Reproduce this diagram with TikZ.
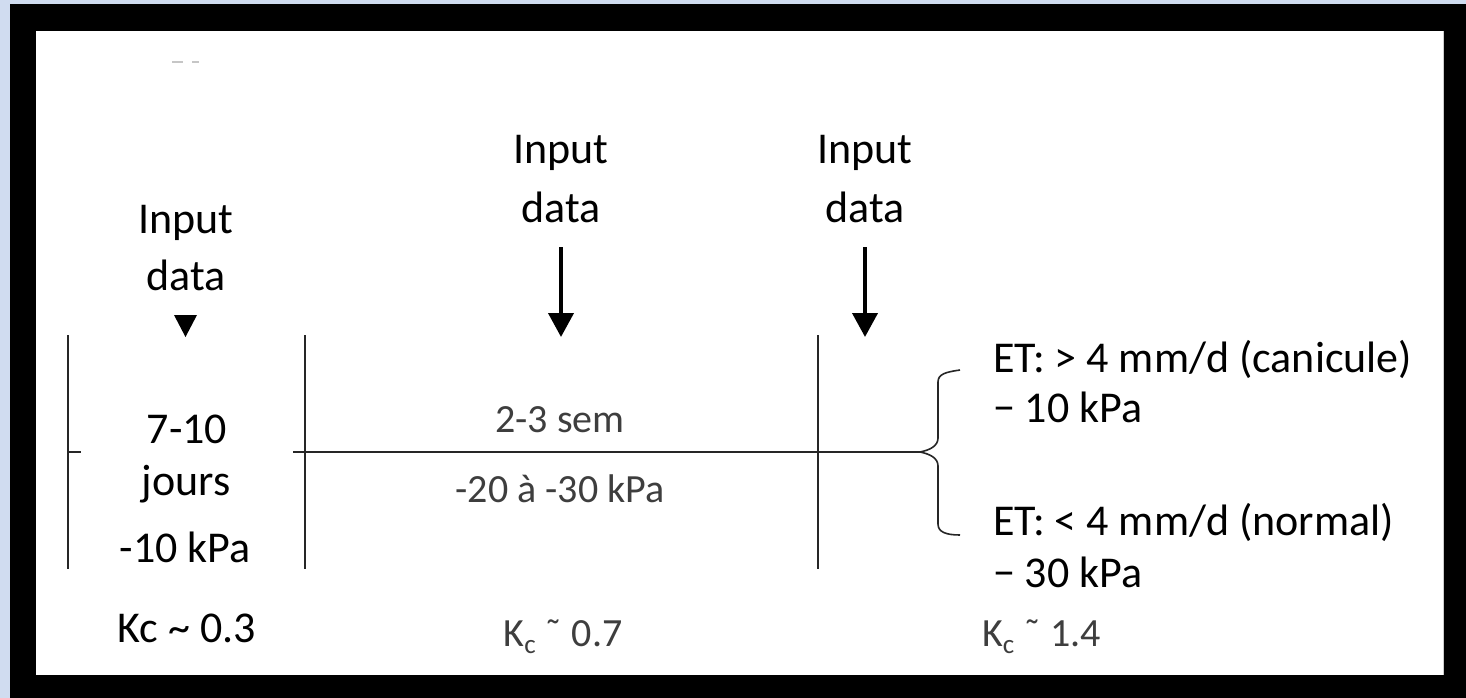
\documentclass[tikz,border=0pt]{standalone}
\usepackage{fontspec}
\setmainfont{Carlito}
\usetikzlibrary{arrows.meta}
\definecolor{bgblue}{RGB}{208,220,240}
\definecolor{txtgray}{RGB}{62,62,62}
\begin{document}
\begin{tikzpicture}[x=1pt,y=-1pt,
  every node/.style={inner sep=0pt, outer sep=0pt},
  lbl/.style={font=\fontsize{44}{52}\selectfont, anchor=base},
  glbl/.style={font=\fontsize{40}{48}\selectfont, text=txtgray, anchor=base},
  rule/.style={line width=2pt, draw=black!85},
  inarrow/.style={line width=4pt, -{Triangle[width=25pt,length=24pt]}}]
% frame
\fill[bgblue] (0,0) rectangle (1466,698);
\fill[black] (10,4) rectangle (1466,698);
\fill[white] (36,31) rectangle (1443,675);
\draw[gray!40, line width=1pt] (1443,31) -- (1443,675);
\useasboundingbox (0,0) rectangle (1466,698);
% faint marks
\draw[gray!45, line width=1.5pt] (172,62) -- (183,62);
\draw[gray!45, line width=1.5pt] (192,62) -- (199,62);
% input data labels
\node[lbl] (in1a) at (186,233) {Input};
\node[lbl] (in1b) at (186,290) {data};
\fill[black] (174,315) -- (197,315) -- (185.5,337) -- cycle;
\node[lbl] (in2a) at (561,163) {Input};
\node[lbl] (in2b) at (561,222) {data};
\node[lbl] (in3a) at (865,163) {Input};
\node[lbl] (in3b) at (865,222) {data};
\coordinate (a2s) at (561,247); \coordinate (a2e) at (561,337);
\coordinate (a3s) at (865,247); \coordinate (a3e) at (865,337);
\draw[inarrow] (a2s) -- (a2e);
\draw[inarrow] (a3s) -- (a3e);
% timeline lines
\coordinate (v1t) at (68,335); \coordinate (v1b) at (68,569);
\coordinate (v2t) at (305,335); \coordinate (v2b) at (305,569);
\coordinate (v3t) at (818,335); \coordinate (v3b) at (818,569);
\draw[rule] (v1t) -- (v1b);
\draw[rule] (v2t) -- (v2b);
\draw[rule] (v3t) -- (v3b);
\coordinate (tk0) at (68,452); \coordinate (tk1) at (81,452);
\draw[rule] (tk0) -- (tk1);
\coordinate (h0) at (293,452); \coordinate (cusp) at (920,452);
\draw[rule] (h0) -- (cusp);
% brace
\coordinate (btop) at (960,370); \coordinate (bbot) at (960,535);
\draw[rule, line width=1.6pt] (btop) .. controls (946,372) and (938,374) .. (938,382)
  -- (938,438) .. controls (938,446) and (930,450) .. (cusp)
  .. controls (930,454) and (938,458) .. (938,466)
  -- (938,524) .. controls (938,532) and (946,535) .. (bbot);
% phase 1
\node[lbl] (p1a) at (187,443) {7-10};
\node[lbl] (p1b) at (186,495) {jours};
\node[lbl] (p1c) at (185,562) {-10 kPa};
\node[lbl] (kc1) at (187,642) {Kc \textasciitilde{} 0.3};
% phase 2
\node[glbl] (p2a) at (560,432) {2-3 sem};
\node[glbl] (p2b) at (560,502) {-20 à -30 kPa};
\node[glbl] (kc2) at (563,646) {K\raisebox{-7pt}{\fontsize{27}{27}\selectfont c} ˜ 0.7};
% phase 3
\node[lbl, anchor=base west] (et1) at (993,372) {ET: > 4 mm/d (canicule)};
\node[lbl, anchor=base west] (et1k) at (993,422) {− 10 kPa};
\node[lbl, anchor=base west] (et2) at (993,535) {ET: < 4 mm/d (normal)};
\node[lbl, anchor=base west] (et2k) at (993,587) {− 30 kPa};
\node[glbl, anchor=base west] (kc3) at (982,646) {K\raisebox{-7pt}{\fontsize{27}{27}\selectfont c} ˜ 1.4};
\end{tikzpicture}
\end{document}
